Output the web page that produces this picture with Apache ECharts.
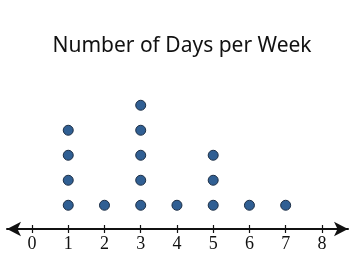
<!DOCTYPE html>
<html>
<head>
<meta charset="utf-8">
<script src="https://cdn.jsdelivr.net/npm/echarts@6/dist/echarts.min.js"></script>
<style>html,body{margin:0;padding:0;background:#fff}#c{width:355px;height:273px}</style>
</head>
<body>
<div id="c"></div>
<script>
var titleText = 'Number of Days per Week';
var daysValues = [0, 1, 2, 3, 4, 5, 6, 7, 8];
var dotCounts = [0, 4, 1, 5, 1, 3, 1, 1, 0];
var tickLabels = ['0', '1', '2', '3', '4', '5', '6', '7', '8'];

var points = [];
daysValues.forEach(function (v, i) {
  for (var k = 1; k <= dotCounts[i]; k++) points.push([v, k]);
});

var chart = echarts.init(document.getElementById('c'), null, {renderer: 'canvas'});
var axisMin = -0.69, axisMax = 8.72;
chart.setOption({
  animation: false,
  title: {
    text: titleText, left: 177, top: 31, textAlign: 'center',
    textStyle: {fontFamily: 'Noto Sans', fontSize: 21, fontWeight: 'normal', color: '#111'}
  },
  grid: {left: 7, right: 7, top: 79, bottom: 44, containLabel: false},
  xAxis: [{
    type: 'value', min: axisMin, max: axisMax, position: 'bottom',
    axisLine: {show: true, onZero: false, lineStyle: {color: '#111', width: 2}, symbol: ['arrow', 'arrow'], symbolSize: [11, 14]},
    axisTick: {show: true, inside: false, length: 4, lineStyle: {color: '#111', width: 1.2}, customValues: daysValues},
    axisLabel: {show: true, margin: 6, fontFamily: 'Liberation Serif', fontSize: 18, color: '#111', customValues: daysValues,
      formatter: function (v) { return tickLabels[Math.round(v)]; }},
    splitLine: {show: false}
  }, {
    type: 'value', min: axisMin, max: axisMax, position: 'bottom',
    axisLine: {show: false, onZero: false},
    axisTick: {show: true, inside: true, length: 4, lineStyle: {color: '#111', width: 1.2}, customValues: daysValues},
    axisLabel: {show: false},
    splitLine: {show: false}
  }],
  yAxis: {type: 'value', min: 0.05, max: 6.05, show: false},
  series: [{
    type: 'scatter', xAxisIndex: 0, data: points, symbol: 'circle', symbolSize: 10,
    itemStyle: {color: '#305f93', borderColor: '#1c2e45', borderWidth: 1, opacity: 1}
  }]
});
</script>
</body>
</html>
